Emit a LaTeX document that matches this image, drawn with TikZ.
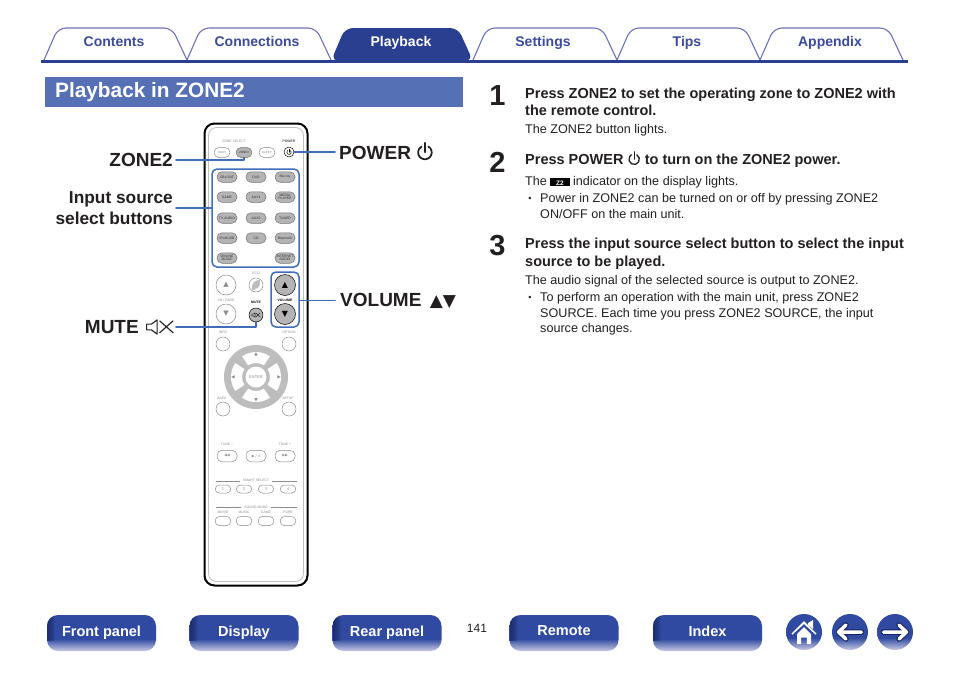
\documentclass[tikz,border=0pt]{standalone}
\usepackage{fontspec}
\setmainfont{Liberation Sans}
\newfontfamily\symfont{DejaVu Sans}
\usetikzlibrary{positioning}
\definecolor{navblue}{HTML}{2F4AA0}
\definecolor{navdark}{HTML}{16245F}
\definecolor{navpale}{HTML}{C8CAE4}
\definecolor{tabblue}{HTML}{2B3F91}
\definecolor{tabline}{HTML}{6C72B8}
\definecolor{tabtext}{HTML}{3C4A9C}
\definecolor{titleblue}{HTML}{5670B5}
\definecolor{callblue}{HTML}{3F6DBB}
\definecolor{inktext}{HTML}{231F20}
\definecolor{keygray}{HTML}{B4B4B4}
\definecolor{padgray}{HTML}{BDBDBD}
\definecolor{printgray}{HTML}{8C8C8C}
\pgfdeclareverticalshading{navshade}{100bp}{color(0bp)=(navpale); color(25bp)=(navpale); color(42bp)=(navblue); color(100bp)=(navblue)}
\newcommand{\pwricon}{\tikz[baseline=0em,x=1em,y=1em,line width=0.09em,line cap=round]{\draw (0.58,0.68) arc (60:-240:0.36);\draw (0.4,0.38) -- (0.4,0.88);}}
\newcommand{\muteicon}{\tikz[baseline=0em,x=1em,y=1em,line width=0.06em]{\draw (0,0.2) -- (0.25,0.2) -- (0.55,-0.02) -- (0.55,0.72) -- (0.25,0.5) -- (0,0.5) -- cycle;\draw (0.68,0.04) -- (1.4,0.68) (0.68,0.68) -- (1.4,0.04);}}
\newcommand{\zbadge}{{\setlength{\fboxsep}{0.6pt}\colorbox{black}{\makebox[18pt]{\rule[-0.2pt]{0pt}{6.8pt}\textcolor{white}{\bfseries\fontsize{6.5}{7}\selectfont Z2}}}}}
\tikzset{
  tabtitle/.style={anchor=base,font=\bfseries\fontsize{14}{16}\selectfont,text=tabtext},
  navbtn/.style={shade,shading=navshade,rounded corners=11,minimum width=109,minimum height=36,inner sep=0pt,
    text=white,font=\bfseries\fontsize{14.5}{16}\selectfont,
    path picture={\foreach \w in {1,...,8} \fill[sharp corners,navdark,opacity=0.13] (path picture bounding box.north west) rectangle ++(\w,26);}},
  roundnav/.style={circle,shade,shading=navshade,minimum size=36,inner sep=0pt},
  callout/.style={draw=callblue,line width=1.6},
  bigtag/.style={inner sep=3pt,text=inktext,font=\bfseries\fontsize{19}{21}\selectfont,align=right},
  stephead/.style={anchor=north west,inner sep=0pt,align=left,text=inktext,font=\bfseries\fontsize{14.5}{17.4}\selectfont},
  stepbody/.style={anchor=north west,inner sep=0pt,align=left,text=inktext,font=\fontsize{12.6}{15.8}\selectfont},
  stepnum/.style={inner sep=0pt,text=inktext,font=\bfseries\fontsize{29}{30}\selectfont},
  dotmark/.style={inner sep=0pt,text=inktext,font=\fontsize{9}{9}\selectfont},
  keybtn/.style={draw=black!55,fill=keygray,line width=0.5,rounded corners=5,minimum width=20,minimum height=10.5,inner sep=0pt,
    align=center,font=\fontsize{3.4}{3.6}\selectfont,text=black!80},
  pale/.style={draw=printgray,fill=white,line width=0.5,rounded corners=5,minimum width=20,minimum height=11.5,inner sep=0pt,
    font=\fontsize{4}{4.5}\selectfont,text=printgray},
  ringkey/.style={circle,draw=printgray,fill=white,line width=0.5,minimum size=14,inner sep=0pt},
  tiny/.style={inner sep=0pt,text=printgray,font=\fontsize{3.4}{4}\selectfont},
}
\begin{document}
\begin{tikzpicture}[x=1pt,y=-1pt,line join=round,line cap=round,>=stealth]
\useasboundingbox (0,0) rectangle (954,673);
% tabs
\foreach \s/\e in {44/187,187/331,473/617,617/760,760/903}
  \draw[tabline,line width=1.1,rounded corners=8] (\s,60) -- (\s+14,28) -- (\e-15,28) -- (\e,60);
\fill[tabblue,rounded corners=8] (331,61) -- (345,28) -- (458,28) -- (473,61) -- cycle;
\draw[tabblue,line width=3,line cap=butt] (41,61) -- (908,61);
\foreach \tx/\lab/\nm in {114/Contents/tabcont,257/Connections/tabconn,543/Settings/tabset,687/Tips/tabtips,830/Appendix/tabapp}
  \node[tabtitle] (\nm) at (\tx,46) {\lab};
\node[tabtitle,text=white] (tabplay) at (401,46) {Playback};
% title
\node[fill=titleblue,minimum width=418,minimum height=30,inner sep=0pt] (titlebar) at (254,92) {};
\node[anchor=west,inner sep=0pt,text=white,font=\bfseries\fontsize{20.8}{22}\selectfont] (titletext) at (55,92) {Playback in ZONE2};
% remote
\node[draw=black,line width=2,rounded corners=10,minimum width=103,minimum height=462,inner sep=0pt] (remote) at (256,354.5) {};
\node[draw=black!25,line width=0.8,rounded corners=8,minimum width=95,minimum height=454,inner sep=0pt] (remoteinner) at (256,354.5) {};
\node[tiny] (zonesel) at (234,141) {ZONE SELECT};
\node[tiny,text=black] (powertxt) at (289,141) {POWER};
\node[pale,minimum width=16,minimum height=10] (mainbtn) at (222,152.5) {\fontsize{3}{3}\selectfont MAIN};
\node[keybtn,minimum width=16,minimum height=10] (zonebtn) at (244,152.5) {\fontsize{3}{3}\selectfont ZONE2};
\node[pale,minimum width=16,minimum height=10] (sleepbtn) at (267,152.5) {\fontsize{3}{3}\selectfont SLEEP};
\node[ringkey,draw=black,minimum size=10] (powerbtn) at (289,152) {\fontsize{6}{6}\selectfont\pwricon};
% source keys
\node[keybtn] (kcbl) at (227,177) {CBL/SAT};
\node[keybtn] (kdvd) at (256,177) {DVD};
\node[keybtn] (kblu) at (285,177) {Blu-ray};
\node[keybtn] (kgame) at (227,197) {GAME};
\node[keybtn] (kaux1) at (256,197) {AUX1};
\node[keybtn] (kmedia) at (285,197) {MEDIA\\PLAYER};
\node[keybtn] (ktv) at (227,218) {TV AUDIO};
\node[keybtn] (kaux2) at (256,218) {AUX2};
\node[keybtn] (ktuner) at (285,218) {TUNER};
\node[keybtn] (kipod) at (227,238) {iPod/USB};
\node[keybtn] (kcd) at (256,238) {CD};
\node[keybtn] (kblue) at (285,238) {Bluetooth};
\node[keybtn] (konline) at (227,258) {ONLINE\\MUSIC};
\node[keybtn] (knet) at (285,258) {INTERNET\\RADIO};
\node[draw=callblue,line width=1.5,rounded corners=5,minimum width=87,minimum height=98,inner sep=0pt] (srcbox) at (255.5,218) {};
% volume block
\node[tiny] (ecotxt) at (256,273) {ECO};
\node[ringkey,minimum size=20,font=\symfont\fontsize{7}{7}\selectfont,text=printgray] (chup) at (226,285) {▲};
\node[ringkey,minimum size=20,font=\symfont\fontsize{7}{7}\selectfont,text=printgray] (chdown) at (226,314) {▼};
\node[tiny] (chtxt) at (226,300) {CH / PAGE};
\node[ringkey] (ecobtn) at (256,285) {};
\fill[padgray] (252,290) .. controls (251,283) and (255,280) .. (260,280) .. controls (261,286) and (257,290) .. (252,290);
\node[tiny,text=black,font=\bfseries\fontsize{3.4}{4}\selectfont] (mutetxt) at (256,302) {MUTE};
\node[ringkey,draw=black,fill=keygray,font=\fontsize{6}{6}\selectfont] (mutebtn) at (256,315) {\muteicon};
\node[ringkey,draw=black,fill=keygray,minimum size=21,font=\symfont\fontsize{8}{8}\selectfont,text=black] (volup) at (285,285) {▲};
\node[ringkey,draw=black,fill=keygray,minimum size=21,font=\symfont\fontsize{8}{8}\selectfont,text=black] (voldown) at (285,314) {▼};
\node[tiny,text=black,font=\bfseries\fontsize{3.4}{4}\selectfont] (voltxt) at (285,300) {VOLUME};
\node[draw=callblue,line width=1.5,rounded corners=5,minimum width=28,minimum height=55,inner sep=0pt] (volbox) at (285,299.5) {};
% cursor pad
\node[tiny] (infotxt) at (223,332) {INFO};
\node[tiny] (opttxt) at (289,332) {OPTION};
\node[ringkey] (infobtn) at (223,344) {};
\node[ringkey] (optbtn) at (289,344) {};
\node[circle,fill=padgray,minimum size=64,inner sep=0pt] (pad) at (256,377) {};
\foreach \a in {0,90,180,270}
  \fill[white,shift={(pad.center)}] (\a-34:25) arc (\a-34:\a+34:25) -- (\a+34:14) arc (\a+34:\a-34:14) -- cycle;
\node[circle,fill=white,minimum size=21,inner sep=0pt,text=printgray,font=\fontsize{4}{4.5}\selectfont] (enterbtn) at (256,377) {ENTER};
\node[tiny,font=\symfont\fontsize{4.5}{5}\selectfont] (padup) at (256,354) {▲};
\node[tiny,font=\symfont\fontsize{4.5}{5}\selectfont] (paddown) at (256,400) {▼};
\node[tiny,font=\symfont\fontsize{4.5}{5}\selectfont] (padleft) at (233,377) {◀};
\node[tiny,font=\symfont\fontsize{4.5}{5}\selectfont] (padright) at (279,377) {▶};
\node[tiny] (backtxt) at (222,398) {BACK};
\node[tiny] (setuptxt) at (288,398) {SETUP};
\node[ringkey] (backkey) at (223,409) {};
\node[ringkey] (setupkey) at (289,409) {};
% lower keys
\node[tiny] (tunea) at (227,444) {TUNE --};
\node[tiny] (tuneb) at (285,444) {TUNE +};
\node[pale,font=\symfont\fontsize{3.5}{4}\selectfont] (tprev) at (227,456) {◀◀};
\node[pale,font=\symfont\fontsize{3.5}{4}\selectfont] (tplay) at (256,456) {▶ / II};
\node[pale,font=\symfont\fontsize{3.5}{4}\selectfont] (tnext) at (285,456) {▶▶};
\node[tiny] (smarttxt) at (256,480) {SMART SELECT};
\draw[printgray,line width=0.5] (smarttxt.west) ++(-3,1.5) -- (216,481.5) (smarttxt.east) ++(3,1.5) -- (297,481.5);
\node[tiny] (soundtxt) at (256,507) {SOUND MODE};
\draw[printgray,line width=0.5] (soundtxt.west) ++(-3,0) -- (216,507) (soundtxt.east) ++(3,0) -- (297,507);
\foreach \kx/\lab/\nm in {223/1/sma,244/2/smb,266/3/smc,288/4/smd}
  \node[pale,minimum width=15.5,minimum height=8,rounded corners=4] (\nm) at (\kx,489) {\lab};
\foreach \kx/\lab/\nm in {223/MOVIE/sma,244/MUSIC/smb,266/GAME/smc,288/PURE/smd}{
  \node[tiny] (\nm txt) at (\kx,512.5) {\lab};
  \node[pale,minimum width=15.5,minimum height=9,rounded corners=4] (\nm key) at (\kx,521) {};
}
% tags and connectors
\node[bigtag,anchor=east] (zonetag) at (176,160) {ZONE2};
\node[bigtag,anchor=east,font=\bfseries\fontsize{17.3}{21}\selectfont] (inputtag) at (176,208) {Input source\\select buttons};
\node[bigtag,anchor=east,inner xsep=2pt] (mutetag) at (176,327) {MUTE\hspace{2pt} \muteicon};
\node[bigtag,anchor=west,inner xsep=4pt] (powertag) at (335,151.5) {POWER \pwricon};
\node[bigtag,anchor=west,inner xsep=5pt] (voltag) at (335,300.5) {VOLUME\hspace{3pt} {\symfont\fontsize{17}{18}\selectfont ▲▼}};
\draw[callout] (zonetag.east) -| (zonebtn.south);
\draw[callout] (inputtag.east) -- (inputtag.east -| srcbox.west);
\draw[callout] (mutetag.east) -| (mutebtn.south);
\draw[callout] (powerbtn.east) -- (powerbtn.east -| powertag.west);
\draw[callout] (voltag.west -| volbox.east) -- (voltag.west);
% steps
\node[stepnum] (numa) at (497.5,96) {1};
\node[stepnum] (numb) at (497.5,162) {2};
\node[stepnum] (numc) at (497.5,246) {3};
\node[stephead] (heada) at (525,87.5) {Press ZONE2 to set the operating zone to ZONE2 with\\the remote control.};
\node[stepbody] (bodya) at (525,124) {The ZONE2 button lights.};
\node[stephead] (headb) at (525,151) {Press POWER \pwricon{} to turn on the ZONE2 power.};
\node[stepbody] (bodyb) at (525,176) {The \zbadge{} indicator on the display lights.};
\node[dotmark] (dotb) at (530,199) {•};
\node[stepbody] (bulletb) at (540,193) {Power in ZONE2 can be turned on or off by pressing ZONE2\\ON/OFF on the main unit.};
\node[stephead] (headc) at (525,238) {Press the input source select button to select the input\\source to be played.};
\node[stepbody] (bodyc) at (525,275) {The audio signal of the selected source is output to ZONE2.};
\node[dotmark] (dotc) at (530,298) {•};
\node[stepbody] (bulletc) at (540,292) {To perform an operation with the main unit, press ZONE2\\SOURCE. Each time you press ZONE2 SOURCE, the input\\source changes.};
% footer
\foreach \bx/\lab/\nm in {101.5/Front panel/navfront,244/Display/navdisp,387/Rear panel/navrear,564/Remote/navremote,707.5/Index/navindex}
  \node[navbtn] (\nm) at (\bx,633) {\raisebox{4pt}{\lab}};
\node[inner sep=0pt,text=inktext,font=\fontsize{12}{14}\selectfont] (pagenum) at (477,628) {141};
\node[roundnav] (homebtn) at (804,632) {};
\node[roundnav] (backbtn) at (850,632) {};
\node[roundnav] (nextbtn) at (895,632) {};
\begin{scope}[shift={(homebtn.center)}]
\fill[white] (-12.5,1.5) -- (0,-11) -- (12.5,1.5) -- (11.5,2.5) -- (0,-8) -- (-11.5,2.5) -- cycle;
\fill[white] (4,-9) -- (9,-12) -- (9,-3) -- (4,-7) -- cycle;
\fill[white] (-7,2) -- (0,-5) -- (7,2) -- (7,12) -- (2.8,12) -- (2.8,5.5) -- (-2.8,5.5) -- (-2.8,12) -- (-7,12) -- cycle;
\end{scope}
\foreach \nm/\d in {backbtn/1,nextbtn/-1}{
  \begin{scope}[shift={(\nm.center)},x=\d pt]
  \draw[navdark,line width=5.5] (11.5,0) -- (-11.5,0) (-4,-7) -- (-11.5,0) -- (-4,7);
  \draw[white,line width=3.5] (11.5,0) -- (-11.5,0) (-4,-7) -- (-11.5,0) -- (-4,7);
  \end{scope}
}
\end{tikzpicture}
\end{document}
